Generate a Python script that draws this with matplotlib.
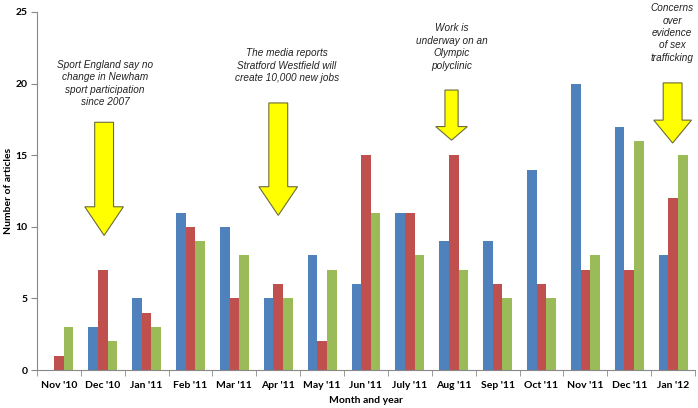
import matplotlib
matplotlib.use("Agg")
import matplotlib.pyplot as plt
from matplotlib.patches import Polygon
import numpy as np

# data
months = ["Nov '10", "Dec '10", "Jan '11", "Feb '11", "Mar '11", "Apr '11", "May '11",
          "Jun '11", "July '11", "Aug '11", "Sep '11", "Oct '11", "Nov '11", "Dec '11",
          "Jan '12"]
blue_vals = [0, 3, 5, 11, 10, 5, 8, 6, 11, 9, 9, 14, 20, 17, 8]
red_vals = [1, 7, 4, 10, 5, 6, 2, 15, 11, 15, 6, 6, 7, 7, 12]
green_vals = [3, 2, 3, 9, 8, 5, 7, 11, 8, 7, 5, 5, 8, 16, 15]

# annotations: (text, text x, text y, arrow x, arrow top, head start, tip, shaft half w, head half w)
notes = [
    ("Sport England say no\nchange in Newham\nsport participation\nsince 2007",
     1.05, 20.0, 1.03, 17.3, 11.4, 9.4, 0.215, 0.44),
    ("The media reports\nStratford Westfield will\ncreate 10,000 new jobs",
     5.19, 21.25, 5.0, 18.65, 12.8, 10.8, 0.215, 0.44),
    ("Work is\nunderway on an\nOlympic\npolyclinic",
     8.95, 22.55, 8.95, 19.55, 17.0, 16.05, 0.15, 0.36),
    ("Concerns\nover\nevidence\nof sex\ntrafficking",
     13.98, 23.53, 13.99, 20.05, 17.45, 15.85, 0.215, 0.43),
]

COLOURS = ["#4F81BD", "#C0504D", "#9BBB59"]

fig = plt.figure(figsize=(6.98, 4.08), dpi=100)
ax = fig.add_axes([0.053, 0.093, 0.9427, 0.8776])

x = np.arange(len(months))
w = 0.22
for off, vals, c in zip([-w, 0, w], [blue_vals, red_vals, green_vals], COLOURS):
    ax.bar(x + off, vals, width=w, color=c, edgecolor="none")

ax.set_xlim(-0.5, len(months) - 0.5)
ax.set_ylim(0, 25)
ax.set_yticks(range(0, 26, 5))
ax.set_xticks(x)
ax.set_xticklabels(months)
ax.set_xticks(np.arange(-0.5, len(months)), minor=True)
ax.tick_params(axis="x", which="major", length=0, pad=8)
ax.tick_params(axis="x", which="minor", length=4, color="#888888", direction="out")
ax.tick_params(axis="y", length=4, color="#888888", pad=3)

for lbl in ax.get_xticklabels() + ax.get_yticklabels():
    lbl.set_fontfamily("Lato")
    lbl.set_fontweight("bold")
    lbl.set_fontsize(7.5)

for side in ["top", "right"]:
    ax.spines[side].set_visible(False)
for side in ["left", "bottom"]:
    ax.spines[side].set_color("#888888")
    ax.spines[side].set_linewidth(0.8)

ax.set_xlabel("Month and year", fontfamily="Lato", fontweight="bold", fontsize=7.5, labelpad=4)
ax.set_ylabel("Number of articles", fontfamily="Lato", fontweight="bold", fontsize=7.5)
ax.yaxis.set_label_coords(-0.036, 0.5)

for text, tx, ty, axc, top, hs, tip, sw, hw in notes:
    ax.text(tx, ty, text, ha="center", va="center", fontsize=7.2, style="italic",
            fontfamily="Liberation Sans", color="#222222", linespacing=1.3, clip_on=False)
    pts = [(axc - sw, top), (axc + sw, top), (axc + sw, hs), (axc + hw, hs),
           (axc, tip), (axc - hw, hs), (axc - sw, hs)]
    ax.add_patch(Polygon(pts, closed=True, facecolor="#FFFF00", edgecolor="#6b6b3a",
                         linewidth=0.8, zorder=3))

fig.savefig("out.png", dpi=100)
